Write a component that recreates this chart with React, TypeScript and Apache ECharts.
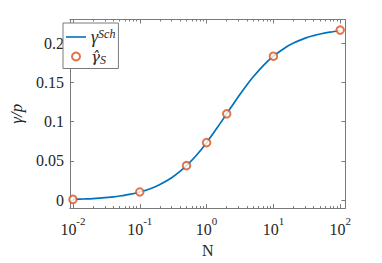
import React, { useEffect, useRef } from "react";
import * as echarts from "echarts";

const CURVE_N = [0.01, 0.015, 0.02, 0.03, 0.04, 0.05, 0.07, 0.1, 0.15, 0.2, 0.3, 0.4, 0.5, 0.7, 1, 1.5, 2, 3, 4, 5, 7, 10, 15, 20, 30, 40, 50, 70, 100];
const CURVE_GAMMA = [0.0011, 0.00164, 0.00218, 0.00325, 0.00431, 0.00537, 0.00744, 0.0105, 0.0153, 0.02, 0.0287, 0.0367, 0.044, 0.057, 0.0733, 0.0943, 0.11, 0.132, 0.1467, 0.1571, 0.1711, 0.1833, 0.1941, 0.2, 0.2063, 0.2095, 0.2115, 0.2139, 0.2157];
const MARK_N = [0.01, 0.1, 0.5, 1, 2, 10, 100];
const MARK_GAMMA = [0.0011, 0.0105, 0.044, 0.0733, 0.11, 0.1833, 0.2166];

const X_MAJOR = [0.01, 0.1, 1, 10, 100];
const X_MINOR = [0.02, 0.03, 0.04, 0.05, 0.06, 0.07, 0.08, 0.09, 0.2, 0.3, 0.4, 0.5, 0.6, 0.7, 0.8, 0.9, 2, 3, 4, 5, 6, 7, 8, 9, 20, 30, 40, 50, 60, 70, 80, 90];
const Y_TICKS = [0, 0.05, 0.1, 0.15, 0.2];
const Y_LABELS = ["0", "0.05", "0.1", "0.15", "0.2"];

const FONT = "Liberation Serif";
const HATFONT = "DejaVu Serif";
const FRAME = "#7a7a7a";
const TEXT = "#262626";

export default function App() {
  const ref = useRef<HTMLDivElement>(null);
  useEffect(() => {
    if (!ref.current) return;
    const chart = echarts.init(ref.current, undefined, { renderer: "svg" });
    const logAxisBase = {
      type: "log" as const,
      gridIndex: 0,
      min: 0.009,
      max: 120,
      splitLine: { show: false },
    };
    const frameLine = { show: true, onZero: false, lineStyle: { color: FRAME, width: 1 } };
    chart.setOption({
      animation: false,
      textStyle: { fontFamily: FONT },
      grid: { left: 57.5, right: 36.5, top: 19.5, bottom: 52, containLabel: false },
      xAxis: [
        {
          ...logAxisBase,
          position: "bottom",
          axisLine: frameLine,
          axisTick: { show: true, inside: true, length: 4, customValues: X_MAJOR, lineStyle: { color: FRAME } },
          axisLabel: {
            show: true,
            customValues: X_MAJOR,
            margin: 7,
            fontFamily: FONT,
            formatter: (v: number) => `{b|10}{s|${Math.round(Math.log10(v))}}`,
            rich: {
              b: { fontFamily: FONT, fontSize: 16, color: TEXT, lineHeight: 22, verticalAlign: "bottom" },
              s: { fontFamily: FONT, fontSize: 11, color: TEXT, lineHeight: 22, verticalAlign: "top" },
            },
          },
          name: "N",
          nameLocation: "middle",
          nameGap: 30,
          nameTextStyle: { fontFamily: FONT, fontSize: 16, color: TEXT },
        },
        {
          ...logAxisBase,
          position: "top",
          axisLine: frameLine,
          axisTick: { show: true, inside: true, length: 4, customValues: X_MAJOR, lineStyle: { color: FRAME } },
          axisLabel: { show: false },
        },
        {
          ...logAxisBase,
          position: "bottom",
          axisLine: { show: false, onZero: false },
          axisTick: { show: true, inside: true, length: 2, customValues: X_MINOR, lineStyle: { color: FRAME } },
          axisLabel: { show: false },
        },
        {
          ...logAxisBase,
          position: "top",
          axisLine: { show: false, onZero: false },
          axisTick: { show: true, inside: true, length: 2, customValues: X_MINOR, lineStyle: { color: FRAME } },
          axisLabel: { show: false },
        },
      ],
      yAxis: [
        {
          type: "value",
          gridIndex: 0,
          position: "left",
          min: -0.01,
          max: 0.23,
          splitLine: { show: false },
          axisLine: frameLine,
          axisTick: { show: true, inside: true, length: 4, customValues: Y_TICKS, lineStyle: { color: FRAME } },
          axisLabel: {
            show: true,
            customValues: Y_TICKS,
            margin: 6,
            fontFamily: FONT,
            fontSize: 16,
            color: TEXT,
            formatter: (v: number) => {
              const i = Y_TICKS.findIndex((t) => Math.abs(t - v) < 1e-9);
              return i >= 0 ? Y_LABELS[i] : "";
            },
          },
          name: "γ/p",
          nameLocation: "middle",
          nameRotate: 90,
          nameGap: 41,
          nameTextStyle: { fontFamily: FONT, fontSize: 17, fontStyle: "italic", color: TEXT },
        },
        {
          type: "value",
          gridIndex: 0,
          position: "right",
          min: -0.01,
          max: 0.23,
          splitLine: { show: false },
          axisLine: frameLine,
          axisTick: { show: true, inside: true, length: 4, customValues: Y_TICKS, lineStyle: { color: FRAME } },
          axisLabel: { show: false },
        },
      ],
      legend: {
        orient: "vertical",
        left: 63,
        top: 23,
        padding: [5, 3, 3, 3],
        itemGap: 3,
        itemWidth: 20,
        itemHeight: 8,
        backgroundColor: "#ffffff",
        borderColor: FRAME,
        borderWidth: 1,
        borderRadius: 0,
        data: [
          { name: "gammaSch", icon: "path://M0,0H20V1.6H0Z" },
          { name: "gammaHat" },
        ],
        formatter: (name: string) => (name === "gammaSch" ? "{g|γ}{sup|Sch}" : "{gh|γ̂}{sub|S}"),
        textStyle: {
          fontFamily: FONT,
          fontSize: 17,
          color: TEXT,
          rich: {
            g: { fontFamily: FONT, fontSize: 18, fontStyle: "italic", color: TEXT, lineHeight: 18, verticalAlign: "middle" },
            gh: { fontFamily: HATFONT, fontSize: 15, fontStyle: "italic", color: TEXT, lineHeight: 18, verticalAlign: "middle" },
            sup: { fontFamily: FONT, fontSize: 12, fontStyle: "italic", color: TEXT, lineHeight: 18, verticalAlign: "top" },
            sub: { fontFamily: FONT, fontSize: 12, fontStyle: "italic", color: TEXT, lineHeight: 18, verticalAlign: "bottom" },
          },
        },
      },
      series: [
        {
          name: "gammaSch",
          type: "line",
          xAxisIndex: 0,
          yAxisIndex: 0,
          data: CURVE_N.map((n, i) => [n, CURVE_GAMMA[i]]),
          symbol: "none",
          showSymbol: false,
          smooth: 0.3,
          lineStyle: { color: "#0072BD", width: 1.7 },
          itemStyle: { color: "#0072BD" },
          z: 2,
        },
        {
          name: "gammaHat",
          type: "scatter",
          xAxisIndex: 0,
          yAxisIndex: 0,
          data: MARK_N.map((n, i) => [n, MARK_GAMMA[i]]),
          symbol: "emptyCircle",
          symbolSize: 7.5,
          itemStyle: { color: "#D95319", borderColor: "#D95319", borderWidth: 1.5 },
          z: 3,
        },
      ],
    });
    return () => chart.dispose();
  }, []);
  return <div ref={ref} style={{ width: 382, height: 263, position: "absolute", left: 0, top: 0 }} />;
}
